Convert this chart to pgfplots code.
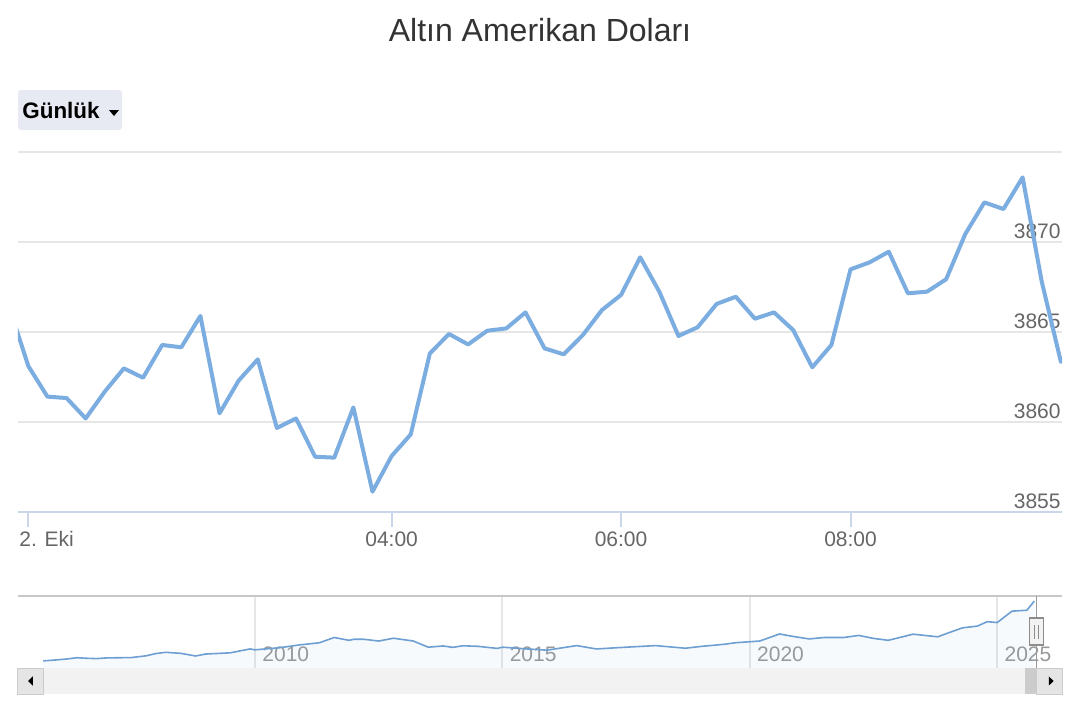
\documentclass[border=0pt]{standalone}
\usepackage{fontspec}
\setmainfont{Liberation Sans}
\usepackage{pgfplots}
\usepackage{pgfplotstable}
\pgfplotsset{compat=1.18}

\definecolor{seriesblue}{HTML}{7BADE0}
\definecolor{navline}{HTML}{6E9FD2}
\definecolor{titlegray}{HTML}{333333}
\definecolor{labelgray}{HTML}{666666}
\definecolor{navlabel}{HTML}{999999}
\definecolor{gridgray}{HTML}{E6E6E6}
\definecolor{axisline}{HTML}{CCD6EB}
\definecolor{btnfill}{HTML}{E8EAF3}

% 10-minute gold quotes, index 0..55 (ordinal axis)
\pgfplotstableread{
idx val
0 3866.4
1 3863.11
2 3861.41
3 3861.33
4 3860.20
5 3861.69
6 3862.98
7 3862.46
8 3864.28
9 3864.15
10 3865.89
11 3860.48
12 3862.30
13 3863.48
14 3859.67
15 3860.20
16 3858.07
17 3858.02
18 3860.81
19 3856.13
20 3858.11
21 3859.31
22 3863.81
23 3864.89
24 3864.31
25 3865.07
26 3865.20
27 3866.09
28 3864.09
29 3863.76
30 3864.83
31 3866.22
32 3867.06
33 3869.15
34 3867.24
35 3864.78
36 3865.26
37 3866.56
38 3866.96
39 3865.74
40 3866.09
41 3865.11
42 3863.04
43 3864.28
44 3868.48
45 3868.87
46 3869.46
47 3867.15
48 3867.24
49 3867.93
50 3870.44
51 3872.20
52 3871.83
53 3873.59
54 3867.80
55 3863.35
}\maindata

% navigator: long-run price
\pgfplotstableread{
yr val
2005.72 470
2006.0 530
2006.2 580
2006.4 650
2006.6 620
2006.8 600
2007.0 640
2007.5 660
2007.8 760
2008.0 890
2008.2 960
2008.5 900
2008.8 750
2009.0 860
2009.5 930
2009.9 1150
2010.0 1100
2010.5 1220
2010.9 1380
2011.3 1500
2011.6 1800
2011.75 1720
2011.9 1640
2012.0 1700
2012.2 1700
2012.5 1600
2012.8 1760
2013.2 1600
2013.5 1250
2013.8 1320
2014.0 1240
2014.2 1330
2014.5 1300
2014.9 1180
2015.0 1250
2015.5 1150
2015.9 1080
2016.5 1340
2016.9 1150
2017.5 1250
2018.1 1340
2018.7 1190
2019.0 1290
2019.5 1420
2019.7 1500
2020.2 1600
2020.6 2000
2020.9 1850
2021.2 1720
2021.5 1800
2021.9 1800
2022.2 1920
2022.5 1750
2022.8 1640
2023.3 1990
2023.8 1840
2024.0 2050
2024.3 2350
2024.6 2450
2024.8 2700
2025.0 2650
2025.3 3300
2025.6 3350
2025.75 3870
}\navdata

\begin{document}
\begin{tikzpicture}
\fill[white] (0,0) rectangle (540pt,360pt);
\useasboundingbox (0,0) rectangle (540pt,360pt);

\node[anchor=base, inner sep=0pt, text=titlegray, font=\fontsize{16}{19}\selectfont] at (270pt,339.5pt) {Altın Amerikan Doları};

% range selector button
\fill[btnfill, rounded corners=1.5pt] (9pt,295pt) rectangle (61pt,315pt);
\node[anchor=base west, inner sep=0pt, font=\bfseries\fontsize{11.2}{13}\selectfont] at (11pt,301pt) {Günlük};
\fill[black] (54.5pt,305pt) -- (59.5pt,305pt) -- (57pt,302pt) -- cycle;

\begin{axis}[
  at={(9pt,104pt)}, anchor=south west,
  width=522pt, height=180pt, scale only axis,
  xmin=0.461, xmax=55.06, ymin=3855, ymax=3875,
  axis line style={draw=none},
  /pgf/number format/assume math mode=true,
  ytick={3855,3860,3865,3870,3875},
  yticklabels={3855,3860,3865,3870,{}},
  yticklabel pos=right,
  ymajorgrids, major grid style={gridgray, line width=1pt},
  ytick style={draw=none},
  yticklabel style={anchor=base east, inner sep=0pt, xshift=-0.5pt, yshift=2pt,
    text=labelgray, font=\fontsize{10.5}{12}\selectfont},
  xtick={20,32,44},
  xticklabels={04:00,06:00,08:00},
  xtick pos=bottom,
  major tick length=7.5pt,
  xtick style={axisline, line width=1pt, yshift=-7.5pt},
  xticklabel style={anchor=base, inner sep=0pt, yshift=-17pt,
    text=labelgray, font=\fontsize{10.5}{12}\selectfont},
  extra x ticks={0.963}, extra x tick labels={2. Eki},
  extra x tick style={xticklabel style={anchor=base west, xshift=-4.3pt}},
]
\addplot[seriesblue, line width=2pt, line join=round, line cap=round] table[x=idx, y=val] {\maindata};
\draw[axisline, line width=1pt] (rel axis cs:0,0) -- (rel axis cs:1,0);
\end{axis}

% navigator
\begin{axis}[
  at={(9pt,26pt)}, anchor=south west,
  width=522pt, height=36pt, scale only axis,
  xmin=2005.21, xmax=2026.31, ymin=66, ymax=4159,
  axis line style={draw=none},
  ytick=\empty,
  xtick={2010,2015,2020,2025},
  xticklabels={2010,2015,2020,2025},
  xmajorgrids, major grid style={gridgray, line width=1pt},
  xtick style={draw=none},
  xticklabel style={anchor=base west, inner sep=0pt, xshift=3.5pt, yshift=3.5pt,
    text=navlabel, font=\fontsize{10.5}{12}\selectfont},
]
\addplot[draw=none, fill=seriesblue, fill opacity=0.06] table[x=yr, y=val] {\navdata} \closedcycle;
\addplot[navline, line width=0.8pt, line join=round] table[x=yr, y=val] {\navdata};
\end{axis}
\draw[black!22, line width=1pt] (9pt,62pt) -- (531pt,62pt);
\draw[black!40, line width=0.6pt] (518.25pt,62pt) -- (518.25pt,26pt);
\filldraw[fill=black!5, draw=black!45, line width=0.6pt] (514.85pt,51pt) rectangle (521.7pt,37.5pt);
\draw[black!45, line width=0.5pt] (517.2pt,47.5pt) -- (517.2pt,40.5pt) (519.3pt,47.5pt) -- (519.3pt,40.5pt);

% scrollbar
\fill[black!5] (9pt,13pt) rectangle (531pt,26pt);
\filldraw[fill=black!10, draw=black!20, line width=0.5pt] (8.5pt,13pt) rectangle (21.5pt,26pt);
\fill[black] (14pt,19.5pt) -- (16.4pt,21.8pt) -- (16.4pt,17.2pt) -- cycle;
\fill[black!20] (512.25pt,13pt) rectangle (518.25pt,26pt);
\filldraw[fill=black!10, draw=black!20, line width=0.5pt] (518.25pt,13pt) rectangle (531pt,26pt);
\fill[black] (526.8pt,19.5pt) -- (524.4pt,21.8pt) -- (524.4pt,17.2pt) -- cycle;
\end{tikzpicture}
\end{document}
